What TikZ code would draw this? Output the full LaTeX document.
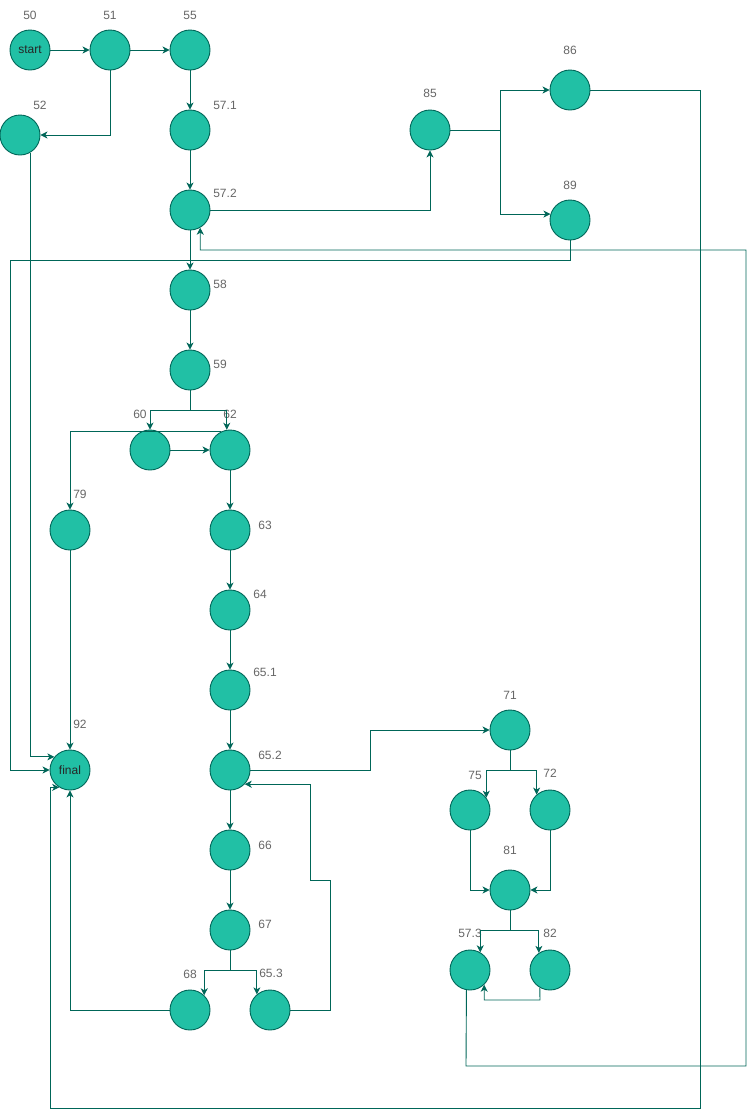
\documentclass[tikz,border=0pt]{standalone}
\usepackage{fontspec}
\setmainfont{Liberation Sans}
\usetikzlibrary{arrows.meta, positioning}
\definecolor{nodefill}{HTML}{21C0A5}
\definecolor{nodeline}{HTML}{006658}
\definecolor{lblgray}{HTML}{666666}

\begin{document}
\begin{tikzpicture}[x=1pt, y=-1pt, >={Stealth[length=7pt, width=7pt, inset=2pt]},
    vtx/.style={circle, draw=nodeline, fill=nodefill, line width=0.9pt, minimum size=40pt, inner sep=0pt, font=\fontsize{12}{14}\selectfont, text=black!85},
    lbl/.style={text=lblgray, inner sep=0pt, font=\fontsize{12}{14}\selectfont},
    edge/.style={->, draw=nodeline, line width=0.9pt}]
\useasboundingbox (0, 0) rectangle (755, 1117);

\node [vtx] (n50)  at (30, 50)   {start};
\node [vtx] (n51)  at (110, 50)  {};
\node [vtx] (n55)  at (190, 50)  {};
\node [vtx] (n52)  at (20, 135)  {};
\node [vtx] (n571) at (190, 130) {};
\node [vtx] (n572) at (190, 210) {};
\node [vtx] (n85)  at (430, 130) {};
\node [vtx] (n86)  at (570, 90)  {};
\node [vtx] (n89)  at (570, 220) {};
\node [vtx] (n58)  at (190, 290) {};
\node [vtx] (n59)  at (190, 370) {};
\node [vtx] (n60)  at (150, 450) {};
\node [vtx] (n62)  at (230, 450) {};
\node [vtx] (n79)  at (70, 530)  {};
\node [vtx] (n63)  at (230, 530) {};
\node [vtx] (n64)  at (230, 610) {};
\node [vtx] (n651) at (230, 690) {};
\node [vtx] (n652) at (230, 770) {};
\node [vtx] (n92)  at (70, 770)  {final};
\node [vtx] (n66)  at (230, 850) {};
\node [vtx] (n67)  at (230, 930) {};
\node [vtx] (n68)  at (190, 1010) {};
\node [vtx] (n653) at (270, 1010) {};
\node [vtx] (n71)  at (510, 730) {};
\node [vtx] (n75)  at (470, 810) {};
\node [vtx] (n72)  at (550, 810) {};
\node [vtx] (n81)  at (510, 890) {};
\node [vtx] (n573) at (470, 970) {};
\node [vtx] (n82)  at (550, 970) {};

\node [lbl] (l50)  at (30, 15)   {50};
\node [lbl] (l51)  at (110, 15)  {51};
\node [lbl] (l55)  at (190, 15)  {55};
\node [lbl] (l52)  at (40, 105)  {52};
\node [lbl] (l571) at (225, 105) {57.1};
\node [lbl] (l572) at (225, 193) {57.2};
\node [lbl] (l85)  at (430, 93)  {85};
\node [lbl] (l86)  at (570, 50)  {86};
\node [lbl] (l89)  at (570, 185) {89};
\node [lbl] (l58)  at (220, 284) {58};
\node [lbl] (l59)  at (220, 364) {59};
\node [lbl] (l60)  at (140, 414) {60};
\node [lbl] (l62)  at (230, 414) {62};
\node [lbl] (l79)  at (80, 494)  {79};
\node [lbl] (l63)  at (265, 525) {63};
\node [lbl] (l64)  at (260, 594) {64};
\node [lbl] (l651) at (265, 672) {65.1};
\node [lbl] (l652) at (270, 755) {65.2};
\node [lbl] (l92)  at (80, 724)  {92};
\node [lbl] (l66)  at (265, 845) {66};
\node [lbl] (l67)  at (265, 924) {67};
\node [lbl] (l68)  at (190, 974) {68};
\node [lbl] (l653) at (271, 973) {65.3};
\node [lbl] (l71)  at (510, 695) {71};
\node [lbl] (l75)  at (475, 775) {75};
\node [lbl] (l72)  at (550, 773) {72};
\node [lbl] (l81)  at (510, 850) {81};
\node [lbl] (l573) at (470, 933) {57.3};
\node [lbl] (l82)  at (550, 933) {82};

\draw[edge] (n50) -- (n51);
\draw[edge] (n51) -- (n55);
\draw[edge] (n51) |- (n52);
\draw[edge] (n55) -- (n571);
\draw[edge] (n571) -- (n572);
\draw[edge] (n572) -| (n85);
\draw[edge] (n85) -- (500, 130) |- (n86);
\draw[edge] (n85) -- (500, 130) |- (n89.163);
\draw[edge] (n86) -- (700, 90) |- (50, 1108) |- (n92.238);
\draw[edge] (n89) -- (570, 260) -| (10, 770) -- (n92);
\draw[edge] (n52.300) |- (n92.140);
\draw[edge] (n572) -- (n58);
\draw[edge] (n573.260) -- (466, 1066) -| (746, 250) -| (n572.300);
\draw[edge] (n58) -- (n59);
\draw[edge] (n59) -- (190, 410) -| (n60);
\draw[edge] (n59) -- (190, 410) -| (n62.99);
\draw[edge] (n60) -- (n62);
\draw[edge] (n62.115) -| (n79);
\draw[edge] (n79) -- (n92);
\draw[edge] (n62) -- (n63);
\draw[edge] (n63) -- (n64);
\draw[edge] (n64) -- (n651);
\draw[edge] (n651) -- (n652);
\draw[edge] (n652) -- (370, 770) |- (n71);
\draw[edge] (n652) -- (n66);
\draw[edge] (n66) -- (n67);
\draw[edge] (n67) -- (230, 970) -| (n68.46);
\draw[edge] (n67) -- (230, 970) -| (n653.130);
\draw[edge] (n653) -- (330, 1010) -- (330, 880) -- (310, 880) |- (n652.316);
\draw[edge] (n68) -| (n92);
\draw[edge] (n71) -- (510, 770) -| (n75.37);
\draw[edge] (n71) -- (510, 770) -| (n72.131);
\draw[edge] (n75) |- (n81);
\draw[edge] (n72) |- (n81);
\draw[edge] (n81) -- (510, 930) -| (n573.60);
\draw[edge] (n81) -- (510, 930) -| (n82.123);
\draw[edge] (n82.240) -- (540, 1000) -| (n573.314);
\end{tikzpicture}
\end{document}
